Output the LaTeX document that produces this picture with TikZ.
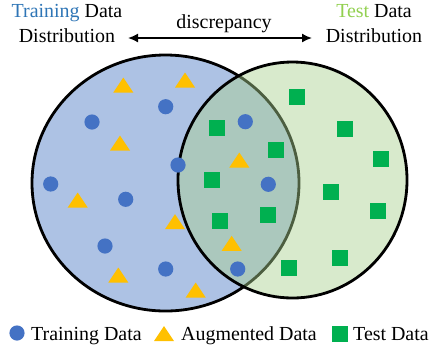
\documentclass[tikz,border=0pt]{standalone}
\usepackage{fontspec}
\setmainfont{Liberation Serif}
\usetikzlibrary{arrows.meta}
\definecolor{trainblue}{HTML}{4472C4}
\definecolor{augyellow}{HTML}{FFC000}
\definecolor{testgreen}{HTML}{00B050}
\definecolor{trainfill}{HTML}{ADC2E4}
\definecolor{testfill}{HTML}{A9D18E}
\definecolor{trainword}{HTML}{2E75B6}
\definecolor{testword}{HTML}{92D050}
\tikzset{
  dist/.style={line width=2.8bp, draw=black},
  lbl/.style={font=\fontsize{20}{25}\selectfont, inner sep=0pt},
  pics/dot/.style={code={\fill[trainblue] (0,0) circle (7.6);}},
  pics/tri/.style={code={\fill[augyellow] (-10,7.5) -- (10,7.5) -- (0,-7.5) -- cycle;}},
  pics/sq/.style={code={\fill[testgreen] (-8,-8) rectangle (8,8);}},
}
\begin{document}
\begin{tikzpicture}[x=1bp, y=-1bp]
\useasboundingbox (0,0) rectangle (434,349);

% training distribution
\fill[trainfill] (165.5,183) ellipse [x radius=133.5, y radius=128];
\draw[dist] (165.5,183) ellipse [x radius=133.5, y radius=128];
% test distribution, translucent over the training one
\fill[testfill, fill opacity=0.45] (292.5,180) ellipse [x radius=114.5, y radius=118];
\draw[dist] (292.5,180) ellipse [x radius=114.5, y radius=118];

% training samples
\foreach \p in {(165.7,106.7),(92,122),(178,165),(50.7,184),(125.7,199.3),(105,246),(165.7,269),(245.3,121.7),(268.3,184.3),(237.7,269)}
  \pic at \p {dot};
% augmented samples
\foreach \p in {(123.3,85),(185,80),(120,143),(77.7,200),(175,221.7),(118.3,275),(195.7,290),(239.3,160),(231.7,243.3)}
  \pic at \p {tri};
% test samples
\foreach \p in {(296.7,96.7),(216.7,127.7),(345,128.7),(275.7,149.7),(381,158.7),(212,179.7),(331,191.7),(378,210.7),(267.7,214.7),(220,220.7),(340,257.7),(289,267.7)}
  \pic at \p {sq};

% headings (base anchor sits on the last line)
\node[lbl, align=center, anchor=base] (trainlbl) at (67,42)
  {\textcolor{trainword}{Training} Data\\Distribution};
\node[lbl, align=center, anchor=base] (testlbl) at (374,42)
  {\textcolor{testword}{Test} Data\\Distribution};
\coordinate (dl) at (128,38);
\coordinate (dr) at (312,38);
\draw[line width=1.6bp, {Latex[length=10bp,width=9bp]}-{Latex[length=10bp,width=9bp]}] (dl) -- (dr);
\node[lbl, anchor=base] (disc) at (224,28) {discrepancy};

% legend
\pic at (17,333) {dot};
\node[lbl, anchor=base west] (lgtrain) at (31,340) {Training Data};
\pic at (164,333.5) {tri};
\node[lbl, anchor=base west] (lgaug) at (181,340) {Augmented Data};
\pic at (339.5,334) {sq};
\node[lbl, anchor=base west] (lgtest) at (353,340) {Test Data};
\end{tikzpicture}
\end{document}
